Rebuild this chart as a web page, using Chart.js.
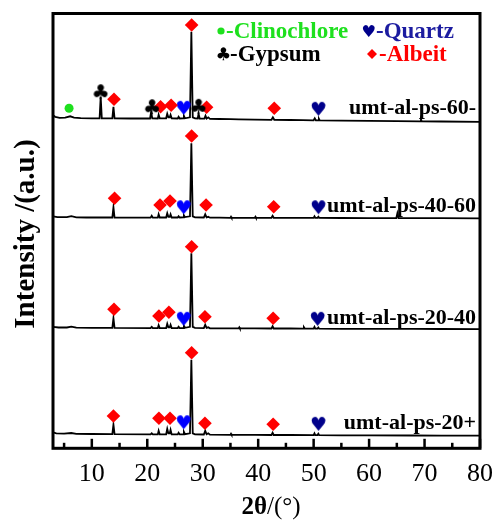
<!DOCTYPE html>
<html>
<head>
<meta charset="utf-8">
<script src="https://cdn.jsdelivr.net/npm/chart.js@4.4.1/dist/chart.umd.min.js"></script>
<style>
  html, body { margin: 0; padding: 0; background: #fff; }
  #wrap { width: 503px; height: 522px; position: relative; }
</style>
</head>
<body>
<div id="wrap"><canvas id="xrd"></canvas></div>
<script>
// ===== 数据: 2θ / 强度 (相对各自基线) =====
const X_TICKS = [5, 10, 15, 20, 25, 30, 35, 40, 45, 50, 55, 60, 65, 70, 75, 80];
const SAMPLE_NAMES = ["umt-al-ps-60-", "umt-al-ps-40-60", "umt-al-ps-20-40", "umt-al-ps-20+"];
const SAMPLE_OFFSETS = [326.5, 230, 119, 12.5];
const LABEL_POS = [[79.3, 340.3], [79.3, 241.6], [79.3, 130.3], [79.3, 25]];

const TRACE_60 = [
  [3.0,6.5],[3.4,5],[4.2,4],[5.2,4.2],[6.1,5.5],[6.8,4.2],[8,3.6],[10,3.5],[11.4,3.5],[11.6,25],[11.8,3.5],
  [13.7,3.5],[13.9,15],[14.1,3.5],[17,3.3],[20.5,3.3],[20.7,10],[20.9,3.5],[21.9,3.3],[22.05,7],[22.25,3.5],
  [23.4,3.5],[23.6,8],[23.8,4.5],[24.05,4.5],[24.2,7],[24.4,3.5],[25.5,3.3],[25.65,5],[25.85,3.3],[26.45,3.5],
  [26.6,6],[26.8,3.5],[27.7,4.5],[27.95,90],[28.2,4.5],[28.6,3.5],[29.1,3.3],[29.25,8],[29.45,3.3],[30.3,3.2],
  [30.5,6],[30.7,3.2],[31.0,4.5],[31.3,3],[33,2.8],[35,2.6],[36.5,2.4],[39.4,2.2],[42.4,2],[42.65,4.5],[42.9,2],
  [45.8,1.8],[48,1.6],[50.0,1.5],[50.2,3.5],[50.4,1.5],[50.8,1.5],[50.95,3],[51.1,1.4],[55,1.2],[60,0.9],
  [65,0.6],[69.2,0.4],[69.35,2.5],[69.5,0.4],[73,0.3],[80,0]
];
const TRACE_40_60 = [
  [3.0,2],[3.8,1.2],[5.5,1.2],[6.3,2.2],[7.2,1],[9,0.8],[12,0.8],[13.7,0.8],[13.9,11],[14.1,0.8],[16,0.6],
  [20.6,0.6],[20.8,2.5],[21.0,0.6],[21.9,0.6],[22.05,4],[22.25,0.8],[23.4,0.8],[23.6,5],[23.8,1.5],[24.05,1.5],
  [24.2,4],[24.4,0.8],[25.5,0.8],[25.65,2],[25.85,0.8],[26.45,1],[26.6,3],[26.8,1.2],[27.7,2],[27.95,75],
  [28.2,2],[28.6,1],[30.2,0.8],[30.45,4],[30.7,1],[31.0,1.5],[31.3,0.6],[33,0.6],[35.0,0.5],[35.1,1.5],
  [35.2,0.5],[36.5,0.5],[39.4,0.6],[39.5,1.5],[39.6,0.5],[42.4,0.5],[42.6,2.5],[42.8,0.5],[45.8,0.5],
  [48.5,0.4],[50.0,0.4],[50.15,2],[50.3,0.5],[50.7,0.5],[50.85,1.5],[51.0,0.4],[55,0.3],[60,0.2],
  [64.9,0.2],[65.1,5],[65.3,0.2],[68,0.2],[73,0.1],[80,0]
];
const TRACE_20_40 = [
  [3.0,2.5],[4,1.8],[5.5,1.8],[6.3,2.6],[7.2,1.6],[10,1.4],[13.7,1.4],[13.9,11],[14.1,1.4],[20.6,1.2],
  [20.8,2.5],[21.0,1.2],[21.9,1.2],[22.05,4],[22.25,1.2],[23.4,1.2],[23.6,5.5],[23.8,2],[24.05,2],[24.2,4.5],
  [24.4,1.2],[25.5,1.2],[25.65,2.5],[25.85,1.2],[26.45,1.3],[26.6,3.5],[26.8,1.5],[27.7,2.5],[27.95,76],
  [28.2,2.5],[28.6,1.5],[30.2,1.2],[30.45,4.5],[30.7,1.4],[31.0,2],[31.3,1],[35,0.9],[36.5,1],[36.6,2],
  [36.7,0.9],[39.4,0.9],[42.4,0.8],[42.6,3],[42.8,0.8],[45.8,0.8],[48.1,0.7],[48.25,2],[48.4,0.7],[50.0,0.7],
  [50.15,2.5],[50.3,0.7],[50.7,0.7],[50.85,1.8],[51.0,0.6],[55,0.5],[60,0.5],[68,0.4],[73,0.3],[80,0.2]
];
const TRACE_20_PLUS = [
  [3.0,3.5],[3.6,2.5],[5,2.2],[6.3,2.8],[7.2,2],[10,1.8],[13.7,1.6],[13.9,11],[14.1,1.6],[20.6,1.4],
  [20.8,2.5],[21,1.4],[21.9,1.4],[22.05,5],[22.25,1.4],[23.4,1.4],[23.6,7],[23.8,2.5],[24.05,2.5],[24.2,6],
  [24.4,1.4],[25.5,1.4],[25.65,3],[25.85,1.4],[26.45,1.5],[26.6,4],[26.8,1.6],[27.7,2.5],[27.95,76],
  [28.2,2.5],[28.6,1.5],[30.2,1.3],[30.45,5],[30.7,1.5],[31,2.5],[31.3,1.2],[35,1],[35.1,2],[35.2,1],
  [39.4,0.9],[42.4,0.8],[42.6,3],[42.8,0.8],[45.8,0.8],[50,0.7],[50.15,2.5],[50.3,0.7],[50.7,0.7],
  [50.85,2],[51,0.6],[55,0.5],[60,0.4],[68,0.3],[73,0.2],[80,0.1]
];
const TRACES = [TRACE_60, TRACE_40_60, TRACE_20_40, TRACE_20_PLUS];

// 物相标记位置 (2θ, 纵坐标)
const CLINOCHLORE_MARKS = [[5.9, 340]];
const GYPSUM_MARKS = [[11.64, 356.6], [20.9, 341.6], [29.3, 342]];
const ALBEIT_MARKS = [
  [14.0,349],[22.4,341.6],[24.3,343],[28.0,423.3],[30.7,341],[42.9,340],
  [14.1,250],[22.3,243.3],[24.1,247.3],[28.0,312.3],[30.6,243.3],[42.8,241.6],
  [14.0,139],[22.1,132.3],[23.9,136],[28.0,201.6],[30.4,131.6],[42.7,130],
  [13.9,32.3],[22.1,30],[24.1,30],[28.0,95.6],[30.4,25],[42.7,24]
];
const QUARTZ_LOW_MARKS = [[26.55,341],[26.55,241.6],[26.55,130],[26.55,26.6]];
const QUARTZ_HIGH_MARKS = [[50.85,340],[50.85,241.6],[50.7,130],[50.85,25]];

const LEGEND_ITEMS = [
  { text: "-Clinochlore", color: "#1ee01e", sym: "circle", x: 221, y: 31 },
  { text: "-Quartz",      color: "#1c1ca0", sym: "heart",  x: 369, y: 31 },
  { text: "-Gypsum",      color: "#000000", sym: "club",   x: 223, y: 54 },
  { text: "-Albeit",      color: "#ff0000", sym: "diamond", x: 372, y: 54 }
];

const SERIF = '"Liberation Serif", "Times New Roman", serif';

// 画一个字形作为 pointStyle
function glyph(ch, color, targetW) {
  const probe = document.createElement("canvas").getContext("2d");
  probe.font = `100px "DejaVu Sans"`;
  const m0 = probe.measureText(ch);
  const ratio = (m0.actualBoundingBoxRight + m0.actualBoundingBoxLeft) / 100;
  const size = targetW / ratio;
  const c = document.createElement("canvas");
  const w = Math.ceil(targetW * 1.6);
  c.width = w; c.height = w;
  const g = c.getContext("2d");
  g.font = `${size}px "DejaVu Sans"`;
  g.fillStyle = color;
  const m = g.measureText(ch);
  const bw = m.actualBoundingBoxRight + m.actualBoundingBoxLeft;
  const bh = m.actualBoundingBoxAscent + m.actualBoundingBoxDescent;
  g.fillText(ch, w / 2 - bw / 2 + m.actualBoundingBoxLeft, w / 2 + bh / 2 - m.actualBoundingBoxDescent);
  return c;
}

const HEART_BLUE = glyph("\u2665", "#0000ff", 14);
const HEART_NAVY = glyph("\u2665", "#00008b", 14);
const CLUB = glyph("\u2663", "#000000", 14);
const HEART_LEGEND = glyph("\u2665", "#00008b", 12);
const CLUB_LEGEND = glyph("\u2663", "#000000", 12);

const toXY = (arr, off = 0) => arr.map(([x, y]) => ({ x, y: y + off }));

const traceSets = TRACES.map((t, i) => ({
  type: "line",
  label: SAMPLE_NAMES[i],
  data: toXY(t, SAMPLE_OFFSETS[i]),
  borderColor: "#000",
  borderWidth: 1.8,
  pointRadius: 0,
  tension: 0,
  order: 2
}));

function markSet(label, arr, style, color, radius) {
  return {
    type: "scatter",
    label,
    data: toXY(arr),
    pointStyle: style,
    pointRadius: radius,
    pointBackgroundColor: color,
    pointBorderColor: color,
    pointBorderWidth: 0,
    showLine: false,
    clip: false,
    order: 1
  };
}

const decorPlugin = {
  id: "decor",
  afterDraw(chart) {
    const { ctx, chartArea: a, scales } = chart;
    const xs = scales.x, ys = scales.y;
    ctx.save();
    // 边框
    ctx.strokeStyle = "#000";
    ctx.lineWidth = 3;
    ctx.strokeRect(a.left, a.top, a.right - a.left, a.bottom - a.top);
    // 内向刻度
    ctx.lineWidth = 2.5;
    X_TICKS.forEach((v) => {
      const px = xs.getPixelForValue(v);
      const len = v % 10 === 0 ? 9.5 : 5.5;
      ctx.beginPath();
      ctx.moveTo(px, a.bottom);
      ctx.lineTo(px, a.bottom - len);
      ctx.stroke();
    });
    // 样品名
    ctx.fillStyle = "#000";
    ctx.font = `bold 22px ${SERIF}`;
    ctx.textAlign = "right";
    ctx.textBaseline = "middle";
    SAMPLE_NAMES.forEach((n, i) => {
      ctx.fillText(n, xs.getPixelForValue(LABEL_POS[i][0]), ys.getPixelForValue(LABEL_POS[i][1]));
    });
    // 图例
    ctx.textAlign = "left";
    ctx.font = `bold 23px ${SERIF}`;
    LEGEND_ITEMS.forEach((it) => {
      let tx = it.x + 6;
      if (it.sym === "circle") {
        ctx.fillStyle = it.color;
        ctx.beginPath(); ctx.arc(it.x, it.y, 3.6, 0, Math.PI * 2); ctx.fill();
        tx = it.x + 5;
      } else if (it.sym === "diamond") {
        ctx.fillStyle = it.color;
        ctx.beginPath();
        ctx.moveTo(it.x, it.y - 5); ctx.lineTo(it.x + 5, it.y);
        ctx.lineTo(it.x, it.y + 5); ctx.lineTo(it.x - 5, it.y);
        ctx.closePath(); ctx.fill();
        tx = it.x + 7;
      } else {
        const img = it.sym === "heart" ? HEART_LEGEND : CLUB_LEGEND;
        ctx.drawImage(img, it.x - img.width / 2, it.y - img.height / 2);
        tx = it.x + 7;
      }
      ctx.fillStyle = it.color;
      ctx.fillText(it.text, tx, it.y + 1);
    });
    // 轴标题
    ctx.fillStyle = "#000";
    ctx.textBaseline = "alphabetic";
    ctx.font = `bold 25px ${SERIF}`;
    const w1 = ctx.measureText("2\u03b8").width;
    ctx.font = `25px ${SERIF}`;
    const w2 = ctx.measureText("/(\u00b0)").width;
    const x0 = 271 - (w1 + w2) / 2;
    ctx.font = `bold 25px ${SERIF}`;
    ctx.fillText("2\u03b8", x0, 514);
    ctx.font = `25px ${SERIF}`;
    ctx.fillText("/(\u00b0)", x0 + w1, 514);

    ctx.translate(34, 234);
    ctx.rotate(-Math.PI / 2);
    ctx.textAlign = "center";
    ctx.font = `bold 29px ${SERIF}`;
    ctx.fillText("Intensity /(a.u.)", 0, 0);
    ctx.restore();
  }
};

new Chart(document.getElementById("xrd"), {
  data: {
    datasets: [
      ...traceSets,
      markSet("Clinochlore", CLINOCHLORE_MARKS, "circle", "#1ee01e", 4.5),
      markSet("Gypsum", GYPSUM_MARKS, CLUB, "#000", 7),
      markSet("Albeit", ALBEIT_MARKS, "rectRot", "#ff0000", 6.8),
      markSet("Quartz", QUARTZ_LOW_MARKS, HEART_BLUE, "#0000ff", 7),
      markSet("Quartz ", QUARTZ_HIGH_MARKS, HEART_NAVY, "#00008b", 7)
    ]
  },
  options: {
    responsive: true,
    maintainAspectRatio: false,
    animation: false,
    layout: { padding: { left: 53, right: 16, top: 13.5, bottom: 0 } },
    plugins: { legend: { display: false }, tooltip: { enabled: false } },
    scales: {
      x: {
        type: "linear",
        min: 3,
        max: 80,
        grid: { display: false, drawTicks: false },
        border: { display: false },
        afterBuildTicks: (s) => { s.ticks = X_TICKS.map((v) => ({ value: v })); },
        afterFit: (s) => { s.height = 73.7; },
        ticks: {
          color: "#000",
          padding: 10,
          maxRotation: 0,
          autoSkip: false,
          font: { family: SERIF, size: 26 },
          callback: (v) => (v % 10 === 0 ? String(v) : "")
        }
      },
      y: {
        type: "linear",
        display: false,
        min: 0,
        max: 434.8
      }
    }
  },
  plugins: [decorPlugin]
});
</script>
</body>
</html>
